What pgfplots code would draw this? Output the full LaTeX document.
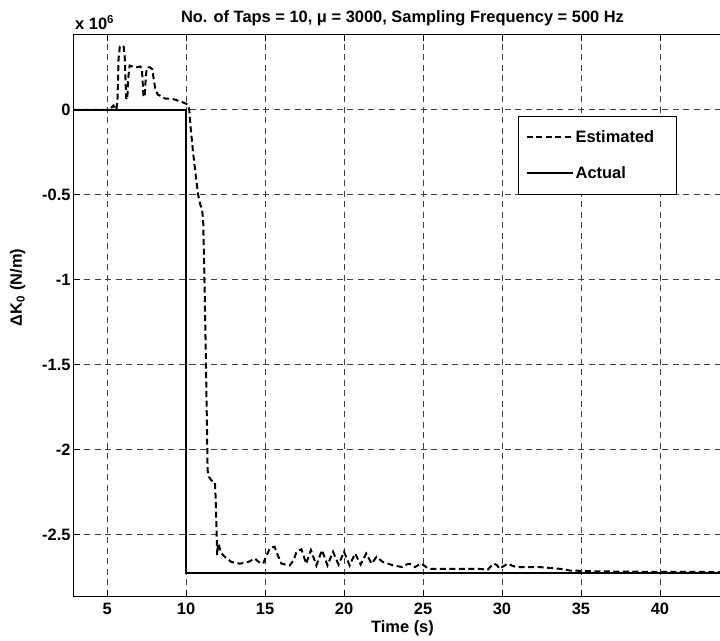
\documentclass[border=0pt]{standalone}
\usepackage{fontspec}
\setmainfont{Liberation Sans}
\usepackage{pgfplots}
\pgfplotsset{compat=1.18}
\newcommand{\fs}{\bfseries\fontsize{16.5}{19}\selectfont}
\begin{document}
\begin{tikzpicture}
\begin{axis}[name=ax, scale only axis, width=657bp, height=561bp,
  xmin=2.9, xmax=44.5, ymin=-2.86, ymax=0.44,
  xtick={5,10,15,20,25,30,35,40}, xticklabels={5,10,15,20,25,30,35,40},
  ytick={-2.5,-2,-1.5,-1,-0.5,0}, yticklabels={-2.5,-2,-1.5,-1,-0.5,0},
  tick align=inside, major tick length=6bp, tick style={black, line width=0.8bp},
  axis line style={line width=1bp},
  grid=major, grid style={dash pattern=on 6bp off 4.5bp, line width=0.6bp, black!75},
  tick label style={font=\fs, black},
  xticklabel style={yshift=-4bp},
  every axis title shift=0pt,
  title={No. of Taps = 10, μ = 3000, Sampling Frequency = 500 Hz},
  title style={font=\fs, at={(0.5,1)}, anchor=base, yshift=12.5bp},
  xlabel={Time (s)}, xlabel style={font=\fs, at={(0.5,0)}, anchor=base, yshift=-36.5bp},
  ylabel={ΔK\textsubscript{0}  (N/m)}, ylabel style={font=\fs, at={(0,0.55)}, anchor=base, yshift=52bp},
  legend style={at={(0.918,0.856)}, anchor=north east, draw=black, line width=1bp, fill=white, font=\fs, inner xsep=7bp, inner ysep=12.5bp, row sep=18bp},
  legend cell align=left,
  legend image code/.code={\draw[#1, line width=2bp] (0bp,0bp) -- (46bp,0bp);},
]
\addplot[black, line width=2bp, dash pattern=on 6bp off 3.5bp] coordinates {
(2.9,0) (5.2,0) (5.3,0.015) (5.4,0.025) (5.5,0.01) (5.58,0.0) (5.65,0.05) (5.72,0.3) (5.8,0.37) (5.9,0.38)
(6.05,0.37) (6.12,0.3) (6.2,0.07) (6.27,0.06) (6.35,0.2) (6.42,0.26) (6.6,0.255) (6.9,0.25) (7.1,0.255) (7.2,0.24)
(7.3,0.08) (7.38,0.075) (7.45,0.2) (7.52,0.25) (7.7,0.25) (7.85,0.24) (7.95,0.18) (8.05,0.12) (8.2,0.09) (8.4,0.08)
(8.7,0.065) (9.0,0.065) (9.3,0.06) (9.6,0.05) (9.9,0.04) (10.1,0.03) (10.2,0.0) (10.3,-0.12) (10.44,-0.25) (10.6,-0.38)
(10.76,-0.5) (10.9,-0.56) (11.0,-0.58) (11.08,-0.65) (11.15,-0.95) (11.22,-1.3) (11.3,-1.75) (11.36,-2.12) (11.45,-2.16) (11.6,-2.18)
(11.82,-2.19) (11.88,-2.3) (11.93,-2.5) (11.97,-2.62) (12.02,-2.55) (12.13,-2.58) (12.25,-2.61) (12.45,-2.63) (12.87,-2.66) (13.4,-2.67)
(13.92,-2.66) (14.35,-2.64) (14.6,-2.66) (14.87,-2.67) (15.1,-2.62) (15.3,-2.58) (15.6,-2.57) (15.8,-2.62) (16.04,-2.67) (16.56,-2.68)
(16.8,-2.65) (16.99,-2.60) (17.3,-2.585) (17.6,-2.67) (17.9,-2.59) (18.25,-2.68) (18.6,-2.59) (18.95,-2.68) (19.3,-2.6) (19.65,-2.675)
(20.0,-2.6) (20.35,-2.68) (20.7,-2.61) (21.05,-2.675) (21.4,-2.61) (21.75,-2.67) (22.05,-2.63) (22.46,-2.66) (22.8,-2.67) (23.1,-2.68)
(23.7,-2.69) (23.95,-2.675) (24.15,-2.67) (24.4,-2.685) (24.5,-2.69) (24.75,-2.675) (24.9,-2.67) (25.2,-2.69) (25.5,-2.70) (27.0,-2.70)
(28.5,-2.70) (29.1,-2.705) (29.35,-2.68) (29.5,-2.67) (29.7,-2.68) (29.85,-2.70) (30.0,-2.69) (30.36,-2.67) (30.6,-2.68) (30.9,-2.69)
(32.4,-2.69) (33.65,-2.70) (34.3,-2.71) (36,-2.715) (38,-2.717) (40,-2.718) (42,-2.718) (44.5,-2.72)
};
\addlegendentry{\makebox[92bp][l]{Estimated}}
\addplot[black, line width=2bp] coordinates {(2.9,0) (10,0) (10,-2.724) (44.5,-2.724)};
\addlegendentry{Actual}
\end{axis}
\node[anchor=base west, font=\fs, inner sep=0pt] at ([xshift=1bp,yshift=5bp]ax.north west) {x 10\textsuperscript{6}};
\pgfresetboundingbox
\useasboundingbox (ax.south west) ++(-74bp,-45bp) rectangle ++(720bp,641bp);
\end{tikzpicture}
\end{document}
